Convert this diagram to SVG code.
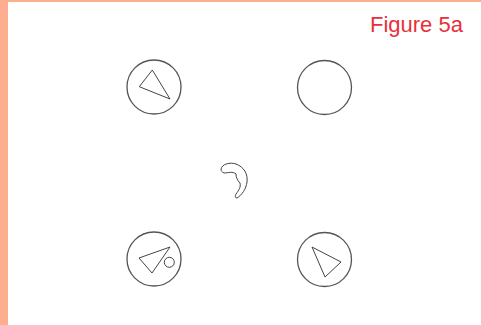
<svg xmlns="http://www.w3.org/2000/svg" width="481" height="325" viewBox="0 0 481 325">
<style>
.ring{fill:none;stroke:#555;stroke-width:1.3}
.shape{fill:none;stroke:#444;stroke-width:1}
.title{font-family:"Liberation Sans",Arial,sans-serif;font-size:22px;fill:#e8303a}
</style>
<rect x="0" y="0" width="481" height="325" fill="#fff"/>
<rect x="0" y="0" width="481" height="2" fill="#fcae8e"/>
<rect x="0" y="0" width="8" height="325" fill="#fcae8e"/>
<text class="title" x="370" y="32">Figure 5a</text>
<g id="node-top-left">
<circle class="ring" cx="154" cy="87" r="27"/>
<polygon class="shape" points="152.3,70 139.3,86.7 170,99"/>
</g>
<g id="node-top-right">
<circle class="ring" cx="324.5" cy="87.5" r="27"/>
</g>
<g id="node-center">
<path class="shape" d="M221,169 C222,164 230,162 236,164 C244,167 248,174 247,182 C246,189 242,195 237,198 C235,198 235,196 236,194 C239,190 241,187 240,183 C237,180 236,177 236,174 C233,171 228,173 224,173 C222,172 221,171 221,169 Z"/>
</g>
<g id="node-bottom-left">
<circle class="ring" cx="154" cy="259" r="27"/>
<polygon class="shape" points="170,247 139,258 152,273"/>
<circle class="shape" cx="169.3" cy="262.3" r="5"/>
</g>
<g id="node-bottom-right">
<circle class="ring" cx="324.5" cy="259.5" r="27"/>
<polygon class="shape" points="312,247 341,262 325,277"/>
</g>
<g id="connectors"></g>
</svg>
